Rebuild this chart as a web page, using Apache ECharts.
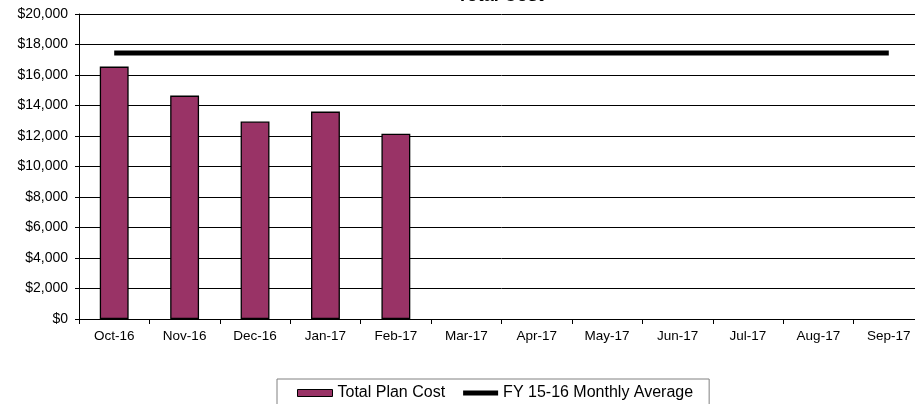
<!DOCTYPE html>
<html>
<head>
<meta charset="utf-8">
<script src="https://cdn.jsdelivr.net/npm/echarts@6/dist/echarts.min.js"></script>
<style>
  html, body { margin: 0; padding: 0; background: #fff; overflow: hidden; }
  #chart { width: 924px; height: 404px; }
</style>
</head>
<body>
<div id="chart"></div>
<script>
// months of the fiscal year
var months = ['Oct-16', 'Nov-16', 'Dec-16', 'Jan-17', 'Feb-17', 'Mar-17',
              'Apr-17', 'May-17', 'Jun-17', 'Jul-17', 'Aug-17', 'Sep-17'];
// total plan cost per month (only first 5 reported)
var planCost = [16550, 14650, 12950, 13600, 12150, null, null, null, null, null, null, null];
// prior fiscal year monthly average, flat line
var fyAverage = [17450, 17450, 17450, 17450, 17450, 17450, 17450, 17450, 17450, 17450, 17450, 17450];

var font = 'Arial, "Liberation Sans", sans-serif';

var chart = echarts.init(document.getElementById('chart'));
var option = {
    animation: false,
    title: {
        text: 'Total Cost',
        left: 452,
        top: -18,
        textStyle: { fontFamily: font, fontSize: 18, fontWeight: 'bold', color: '#000' }
    },
    grid: { left: 79, right: 0, top: 14, bottom: 85 },
    legend: {
        left: 277,
        top: 379,
        padding: [6, 16, 12, 20],
        itemGap: 18,
        borderColor: '#808080',
        borderWidth: 1,
        textStyle: { fontFamily: font, fontSize: 16, color: '#000' },
        itemWidth: 35,
        itemHeight: 7,
        data: [
            { name: 'Total Plan Cost', icon: 'rect',
              itemStyle: { color: '#993366', borderColor: '#000', borderWidth: 1 } },
            { name: 'FY 15-16 Monthly Average', icon: 'path://M0,0H36V5H0Z',
              itemStyle: { color: '#000', borderWidth: 0 } }
        ]
    },
    xAxis: {
        type: 'category',
        data: months,
        axisLine: { lineStyle: { color: '#000', width: 1 } },
        axisTick: { show: true, length: 5, lineStyle: { color: '#000' } },
        axisLabel: { color: '#000', fontFamily: font, fontSize: 13.5, margin: 10 }
    },
    yAxis: {
        type: 'value',
        min: 0,
        max: 20000,
        interval: 2000,
        axisLine: { show: true, lineStyle: { color: '#000', width: 1 } },
        axisTick: { show: true, length: 4, lineStyle: { color: '#000' } },
        axisLabel: {
            color: '#000', fontFamily: font, fontSize: 14, margin: 11,
            formatter: function (v) { return '$' + v.toString().replace(/\B(?=(\d{3})+(?!\d))/g, ','); }
        },
        splitLine: { show: true, lineStyle: { color: '#000', width: 1 } }
    },
    series: [
        {
            name: 'Total Plan Cost',
            type: 'bar',
            data: planCost,
            barWidth: '41%',
            itemStyle: { color: '#993366', borderColor: '#000', borderWidth: 1.3 }
        },
        {
            name: 'FY 15-16 Monthly Average',
            type: 'line',
            data: fyAverage,
            symbol: 'none',
            lineStyle: { color: '#000', width: 5 },
            itemStyle: { color: '#000' }
        }
    ]
};
chart.setOption(option);
</script>
</body>
</html>
